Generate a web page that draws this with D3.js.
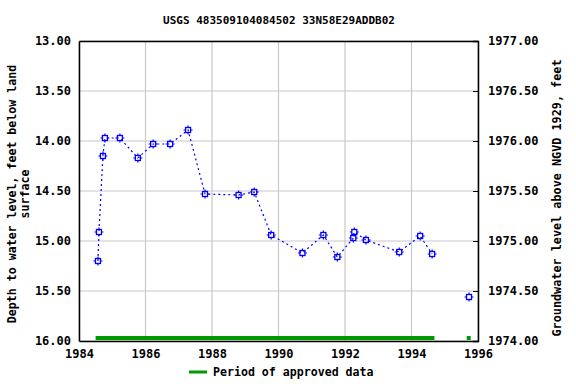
<!DOCTYPE html>
<html>
<head>
<meta charset="utf-8">
<script src="https://cdn.jsdelivr.net/npm/d3@7"></script>
<style>
html,body{margin:0;padding:0;background:#fff;}
svg text{font-family:"DejaVu Sans Mono","Liberation Mono",monospace;font-weight:bold;fill:#000;}
</style>
</head>
<body>
<svg id="chart" width="576" height="384"></svg>
<script>
const title = "USGS 483509104084502 33N58E29ADDB02";
const dates = [1984.57,1984.60,1984.72,1984.78,1985.23,1985.77,1986.23,1986.74,1987.28,1987.79,1988.80,1989.27,1989.78,1990.72,1991.35,1991.77,1992.25,1992.28,1992.63,1993.63,1994.26,1994.62];
const depths = [15.20,14.91,14.15,13.97,13.97,14.17,14.03,14.03,13.89,14.53,14.54,14.51,14.94,15.12,14.94,15.16,14.97,14.91,14.99,15.11,14.95,15.13];
const isoDates = [1995.73];
const isoDepths = [15.56];
const approvedStart = [1984.50, 1995.66];
const approvedEnd = [1994.69, 1995.78];
const xTicks = [1984,1986,1988,1990,1992,1994,1996];
const yTicks = [13.0,13.5,14.0,14.5,15.0,15.5,16.0];
const datumOffset = 1990.0;

const svg = d3.select("#chart");
const m = {l:79, r:478, t:41, b:341};
const x = d3.scaleLinear().domain([1984,1996]).range([m.l,m.r]);
const y = d3.scaleLinear().domain([13,16]).range([m.t,m.b]);
const y2 = d3.scaleLinear().domain([datumOffset-13, datumOffset-16]).range([m.t,m.b]);

// grid
svg.append("g").selectAll("line").data(xTicks).join("line")
  .attr("x1",d=>x(d)).attr("x2",d=>x(d)).attr("y1",m.t).attr("y2",m.b)
  .attr("stroke","#c8c8c8").attr("stroke-width",1.2);
svg.append("g").selectAll("line").data(yTicks).join("line")
  .attr("x1",m.l).attr("x2",m.r).attr("y1",d=>y(d)).attr("y2",d=>y(d))
  .attr("stroke","#c8c8c8").attr("stroke-width",1.2);

// axes
const fmt = d3.format(".2f");
const gL = svg.append("g").attr("transform",`translate(${m.l},0)`)
  .call(d3.axisLeft(y).tickValues(yTicks).tickFormat(fmt).tickSize(0).tickPadding(8));
const gR = svg.append("g").attr("transform",`translate(${m.r},0)`)
  .call(d3.axisRight(y2).tickValues(yTicks.map(v=>datumOffset-v)).tickFormat(fmt).tickSize(-5).tickPadding(10));
const gB = svg.append("g").attr("transform",`translate(0,${m.b})`)
  .call(d3.axisBottom(x).tickValues(xTicks).tickFormat(d3.format("d")).tickSize(0).tickPadding(8));
const gT = svg.append("g").attr("transform",`translate(0,${m.t})`)
  .call(d3.axisTop(x).tickValues([]).tickSize(0));
[gL,gR,gB,gT].forEach(g=>{
  g.select(".domain").attr("stroke","#000").attr("stroke-width",1.5);
  g.selectAll(".tick line").attr("stroke","#000");
  g.selectAll("text").attr("font-size","12px").attr("font-family","DejaVu Sans Mono").attr("font-weight","bold");
});

// approved bars
svg.append("g").selectAll("rect").data(approvedStart).join("rect")
  .attr("x",(d)=>x(d)).attr("width",(d,i)=>x(approvedEnd[i])-x(d))
  .attr("y",336).attr("height",4).attr("fill","#009900");

// line
const pts = dates.map((d,i)=>[d,depths[i]]);
svg.append("path").datum(pts)
  .attr("d",d3.line().x(d=>x(d[0])).y(d=>y(d[1])))
  .attr("fill","none").attr("stroke","#0000ff").attr("stroke-width",1.2).attr("stroke-dasharray","2,3");

function marker(g, data){
  const mk = g.selectAll("g").data(data).join("g")
    .attr("transform",d=>`translate(${x(d[0])},${y(d[1])})`);
  mk.append("rect").attr("x",-2.5).attr("y",-2.5).attr("width",5).attr("height",5)
    .attr("fill","none").attr("stroke","#0000ff").attr("stroke-width",1.3);
  mk.append("path").attr("d","M-4.5,0H-2.5M2.5,0H4.5M0,-4.5V-2.5M0,2.5V4.5")
    .attr("stroke","#0000ff").attr("stroke-width",1.2);
}
marker(svg.append("g"), pts);
marker(svg.append("g"), isoDates.map((d,i)=>[d,isoDepths[i]]));

// title
svg.append("text").attr("x",279).attr("y",24).attr("text-anchor","middle")
  .attr("font-size","11px").text(title);

// left label
const ll = svg.append("text").attr("transform","translate(16,194) rotate(-90)")
  .attr("text-anchor","middle").attr("font-size","11.6px");
ll.append("tspan").attr("x",0).attr("dy",0).text("Depth to water level, feet below land");
ll.append("tspan").attr("x",0).attr("dy",13).text("surface");

// right label
svg.append("text").attr("transform","translate(561,198) rotate(-90)")
  .attr("text-anchor","middle").attr("font-size","11.8px")
  .text("Groundwater level above NGVD 1929, feet");

// legend
svg.append("line").attr("x1",189).attr("x2",207).attr("y1",372).attr("y2",372)
  .attr("stroke","#009900").attr("stroke-width",3);
svg.append("text").attr("x",213).attr("y",376).attr("font-size","11.6px").text("Period of approved data");
</script>
</body>
</html>
